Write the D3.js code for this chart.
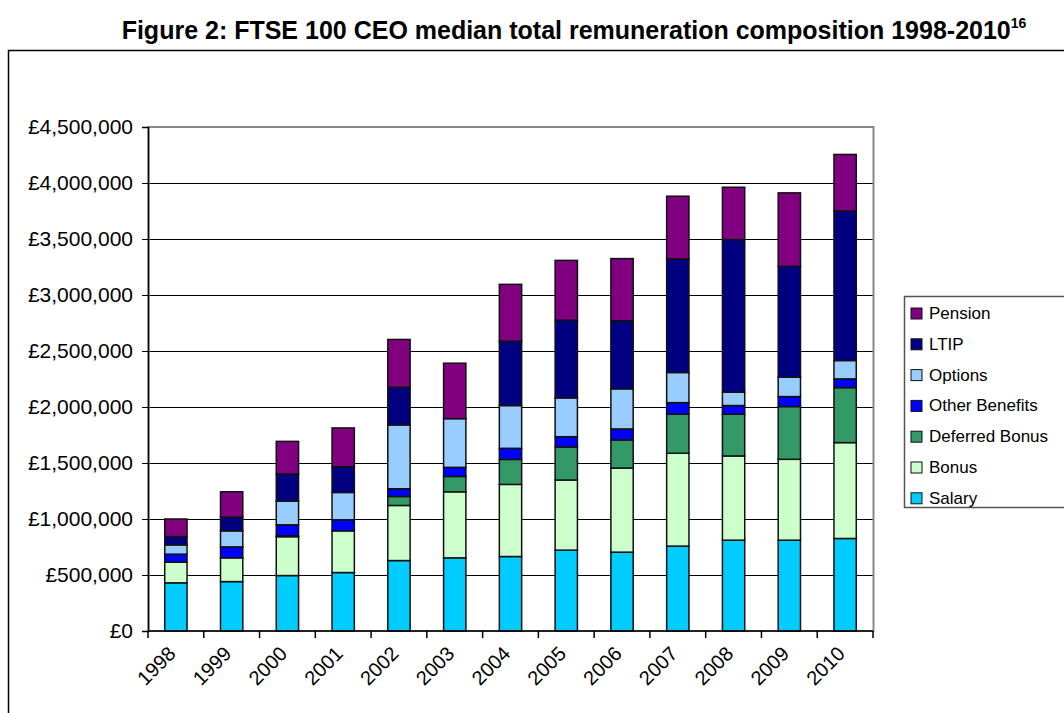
<!DOCTYPE html>
<html>
<head>
<meta charset="utf-8">
<script src="https://cdn.jsdelivr.net/npm/d3@7"></script>
<style>
  body { margin: 0; background: #fff; }
  text { font-family: Arial, "Liberation Sans", sans-serif; }
</style>
</head>
<body>
<div class="container"></div>
<script>
var width = 1064,
    height = 713;

// ---------- DATA ----------
var years = ["1998", "1999", "2000", "2001", "2002", "2003", "2004",
             "2005", "2006", "2007", "2008", "2009", "2010"];
var salary        = [430000, 441000, 495000, 522000, 629000, 653000, 665000, 722000, 704000, 758000, 811000, 811000, 826000];
var bonus         = [184000, 212000, 347000, 372000, 492000, 590000, 644000, 626000, 751000, 829000, 752000, 722000, 856000];
var deferredBonus = [0, 0, 8000, 0, 80000, 137000, 223000, 295000, 251000, 349000, 373000, 471000, 491000];
var otherBenefits = [72000, 98000, 98000, 99000, 69000, 81000, 99000, 92000, 98000, 103000, 77000, 89000, 78000];
var options       = [83000, 143000, 212000, 244000, 570000, 435000, 382000, 346000, 358000, 269000, 119000, 174000, 164000];
var ltip          = [74000, 123000, 242000, 230000, 336000, 0, 575000, 694000, 608000, 1014000, 1363000, 989000, 1335000];
var pension       = [157000, 226000, 291000, 346000, 427000, 495000, 507000, 534000, 555000, 560000, 467000, 656000, 505000];

var seriesNames = ["Salary", "Bonus", "Deferred Bonus", "Other Benefits", "Options", "LTIP", "Pension"];
var seriesValues = [salary, bonus, deferredBonus, otherBenefits, options, ltip, pension];
var yTicks = [0, 500000, 1000000, 1500000, 2000000, 2500000, 3000000, 3500000, 4000000, 4500000];

var colours = ["#00ccff", "#ccffcc", "#339966", "#0000ff", "#99ccff", "#000080", "#800080"];

// build rows for d3.stack
var rows = years.map(function(y, i) {
  var r = { year: y };
  seriesNames.forEach(function(s, j) { r[s] = seriesValues[j][i]; });
  return r;
});

var svg = d3.select(".container").append("svg")
    .attr("width", width)
    .attr("height", height);

// outer chart frame (runs off the right and bottom edges)
svg.append("rect")
    .attr("x", 8.5).attr("y", 50.5)
    .attr("width", 1100).attr("height", 700)
    .attr("fill", "none")
    .attr("stroke", "#000")
    .attr("stroke-width", 1.5);

// title
var title = svg.append("text")
    .attr("x", 574)
    .attr("y", 39)
    .attr("text-anchor", "middle")
    .style("font-weight", "bold")
    .style("font-size", "25px");
title.append("tspan").text("Figure 2: FTSE 100 CEO median total remuneration composition 1998-2010");
title.append("tspan")
    .attr("dy", -11)
    .style("font-size", "14px")
    .text("16");

// ---------- SCALES ----------
var x = d3.scaleBand()
    .domain(years)
    .range([148, 873])
    .paddingInner(0.6)
    .paddingOuter(0.3);

var y = d3.scaleLinear()
    .domain([0, 4500000])
    .range([631, 127]);

// gridlines
svg.append("g")
    .selectAll("line")
    .data(yTicks.slice(1, -1))
    .enter().append("line")
    .attr("x1", 148).attr("x2", 873)
    .attr("y1", function(d) { return Math.round(y(d)) + 0.5; })
    .attr("y2", function(d) { return Math.round(y(d)) + 0.5; })
    .attr("stroke", "#000")
    .attr("stroke-width", 1);

// plot area border
svg.append("rect")
    .attr("x", 148.5).attr("y", 127)
    .attr("width", 725).attr("height", 504)
    .attr("fill", "none")
    .attr("stroke", "#888")
    .attr("stroke-width", 2);

// ---------- BARS ----------
var stack = d3.stack().keys(seriesNames);
var layers = stack(rows);

svg.append("g")
    .selectAll("g")
    .data(layers)
    .enter().append("g")
    .attr("fill", function(d, i) { return colours[i]; })
    .selectAll("rect")
    .data(function(d) { return d; })
    .enter().append("rect")
    .filter(function(d) { return d[1] - d[0] > 0; })
    .attr("x", function(d) { return x(d.data.year); })
    .attr("y", function(d) { return y(d[1]); })
    .attr("width", x.bandwidth())
    .attr("height", function(d) { return y(d[0]) - y(d[1]); })
    .attr("stroke", "#111")
    .attr("stroke-width", 1.5);

// ---------- AXES ----------
var yAxis = svg.append("g")
    .attr("transform", "translate(148,0)")
    .call(d3.axisLeft(y)
      .tickValues(yTicks)
      .tickSize(6)
      .tickPadding(9)
      .tickFormat(function(d) { return "£" + d3.format(",")(d); }));
yAxis.select(".domain").attr("stroke-width", 1.5);
yAxis.selectAll("text")
    .style("font-size", "21px")
    .attr("fill", "#000");

// x axis: ticks between categories
var boundaries = d3.range(years.length + 1).map(function(i) { return 148 + i * 725 / years.length; });
svg.append("line")
    .attr("x1", 148).attr("x2", 873)
    .attr("y1", 631).attr("y2", 631)
    .attr("stroke", "#000")
    .attr("stroke-width", 1.5);
svg.append("g")
    .selectAll("line")
    .data(boundaries)
    .enter().append("line")
    .attr("x1", function(d) { return d; })
    .attr("x2", function(d) { return d; })
    .attr("y1", 631).attr("y2", 638)
    .attr("stroke", "#000")
    .attr("stroke-width", 1.5);

svg.append("g")
    .selectAll("text")
    .data(years)
    .enter().append("text")
    .attr("transform", function(d) {
      return "translate(" + (x(d) + x.bandwidth() / 2 + 1) + ",655) rotate(-45)";
    })
    .attr("text-anchor", "end")
    .style("font-size", "20px")
    .text(function(d) { return d; });

// ---------- LEGEND ----------
svg.append("rect")
    .attr("x", 904.5).attr("y", 296.5)
    .attr("width", 200).attr("height", 211)
    .attr("fill", "#fff")
    .attr("stroke", "#555")
    .attr("stroke-width", 1.5);

var legendOrder = seriesNames.slice().reverse();
var legend = svg.append("g")
    .selectAll("g")
    .data(legendOrder)
    .enter().append("g")
    .attr("transform", function(d, i) { return "translate(911," + (313 + i * 30.8) + ")"; });
legend.append("rect")
    .attr("x", 0).attr("y", -5)
    .attr("width", 11).attr("height", 11)
    .attr("fill", function(d) { return colours[seriesNames.indexOf(d)]; })
    .attr("stroke", "#111")
    .attr("stroke-width", 1);
legend.append("text")
    .attr("x", 18)
    .attr("y", 6)
    .style("font-size", "17px")
    .text(function(d) { return d; });
</script>
</body>
</html>
